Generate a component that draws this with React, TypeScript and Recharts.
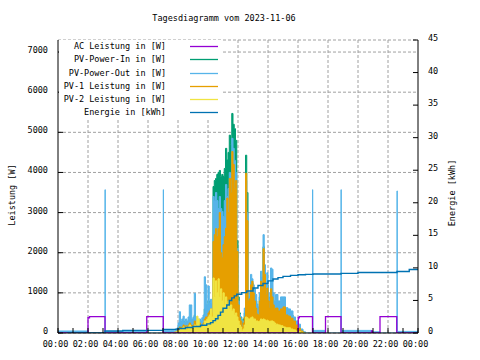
import { ComposedChart, Area, Line, XAxis, YAxis, CartesianGrid, Legend } from "recharts"

const FONT = '"DejaVu Sans Mono", "Liberation Mono", monospace'
const FS = 8.5

const seriesNames = [
  "AC Leistung in [W]",
  "PV-Power-In in [W]",
  "PV-Power-Out in [W]",
  "PV-1 Leistung in [W]",
  "PV-2 Leistung in [W]",
  "Energie in [kWh]",
]
const seriesColors = ["#9400d3", "#009e73", "#56b4e9", "#e69f00", "#f0e442", "#0072b2"]

const hourTicks = [0, 1, 2, 3, 4, 5, 6, 7, 8, 9, 10, 11, 12, 13, 14, 15, 16, 17, 18, 19, 20, 21, 22, 23, 24]
const gridHours = [2, 4, 6, 8, 10, 12, 14, 16, 18, 20, 22]
const wattTicks = [0, 1000, 2000, 3000, 4000, 5000, 6000, 7000]
const kwhTicks = [0, 5, 10, 15, 20, 25, 30, 35, 40, 45]

// AC Leistung (W)
const acTimes = ["00:00", "02:00", "02:06", "03:08", "05:55", "07:01", "16:01", "16:05", "16:58", "17:50", "18:52", "20:54", "20:57", "21:28", "22:35", "24:00"]
const acValues = [0, 380, 410, 0, 410, 0, 380, 410, 0, 410, 0, 50, 0, 410, 0, 0]

// daytime samples shared by the PV series
const dayTimes = [
  "07:30", "07:45", "07:55", "08:00", "08:05", "08:10", "08:15", "08:20", "08:25", "08:30",
  "08:35", "08:40", "08:45", "08:50", "08:55", "09:00", "09:05", "09:10", "09:15", "09:20",
  "09:25", "09:30", "09:35", "09:40", "09:45", "09:50", "09:55", "10:00", "10:05", "10:10",
  "10:15", "10:20", "10:25", "10:30", "10:35", "10:40", "10:45", "10:50", "10:55", "11:00",
  "11:05", "11:10", "11:15", "11:20", "11:25", "11:30", "11:35", "11:40", "11:45", "11:50",
  "11:55", "12:00", "12:05", "12:10", "12:15", "12:20", "12:25", "12:30", "12:35", "12:40",
  "12:45", "12:50", "12:55", "13:00", "13:05", "13:10", "13:15", "13:20", "13:25", "13:30",
  "13:35", "13:40", "13:45", "13:50", "13:55", "14:00", "14:05", "14:10", "14:15", "14:20",
  "14:25", "14:30", "14:40", "14:50", "15:00", "15:10", "15:20", "15:30", "15:40", "15:50",
  "16:00", "16:10", "16:20", "16:30",
]
const pvInValues = [
  0, 30, 80, 150, 250, 200, 250, 300, 200, 250,
  200, 300, 350, 300, 250, 300, 450, 300, 350, 250,
  300, 250, 300, 350, 600, 700, 500, 800, 600, 700,
  650, 3650, 3800, 3850, 3950, 4000, 4050, 3900, 3950, 3900,
  4100, 4600, 4310, 4500, 4930, 4700, 5470, 5200, 5090, 4800,
  2300, 900, 500, 400, 250, 350, 500, 4430, 3500, 850,
  900, 1300, 1250, 1050, 900, 800, 600, 550, 900, 1300,
  1200, 2150, 1500, 1100, 1200, 900, 700, 1300, 1000, 800,
  700, 750, 650, 750, 800, 550, 500, 450, 350, 250,
  150, 60, 0, 0,
]
const pvOutValues = [
  60, 60, 120, 250, 530, 300, 350, 420, 280, 350,
  300, 400, 700, 700, 350, 400, 990, 400, 350, 300,
  350, 300, 380, 450, 1400, 1200, 700, 1170, 750, 840,
  740, 3400, 3300, 3500, 3300, 3100, 3400, 3100, 3030, 2900,
  3300, 3700, 3400, 3600, 4000, 3800, 4850, 4600, 4300, 4000,
  2100, 800, 470, 380, 200, 300, 620, 3800, 3000, 900,
  1000, 1460, 1350, 1200, 1100, 960, 720, 650, 1000, 1540,
  1400, 2450, 1700, 1200, 1500, 1000, 850, 1620, 1590, 1000,
  800, 960, 800, 900, 900, 630, 600, 550, 400, 300,
  220, 100, 30, 0,
]
const pv1Values = [
  0, 20, 50, 100, 150, 120, 150, 200, 150, 180,
  150, 200, 250, 200, 180, 200, 300, 200, 250, 200,
  250, 180, 200, 250, 350, 400, 400, 500, 550, 600,
  500, 2280, 2450, 2600, 2400, 2600, 3000, 2000, 1870, 2200,
  2400, 2610, 3360, 3000, 3850, 3500, 4520, 4200, 3600, 3800,
  2030, 700, 380, 300, 150, 250, 400, 3980, 2800, 800,
  850, 1200, 1290, 1000, 800, 620, 470, 450, 800, 1290,
  1100, 2100, 1460, 960, 1120, 800, 620, 1100, 900, 700,
  600, 620, 550, 600, 650, 450, 420, 370, 300, 200,
  120, 50, 0, 0,
]
const pv2Values = [
  0, 20, 40, 60, 100, 80, 120, 150, 100, 150,
  80, 150, 200, 150, 100, 150, 200, 150, 420, 350,
  200, 150, 150, 200, 300, 300, 350, 400, 450, 600,
  400, 1370, 900, 1300, 1000, 1350, 900, 1100, 800, 1000,
  700, 900, 650, 800, 600, 700, 550, 600, 450, 500,
  400, 300, 200, 150, 50, 100, 200, 400, 380, 350,
  350, 380, 400, 350, 350, 300, 300, 280, 300, 350,
  330, 350, 330, 300, 320, 300, 280, 300, 300, 280,
  250, 220, 200, 180, 150, 130, 130, 100, 80, 50,
  40, 20, 0, 0,
]

// PV-Power-Out outside the daytime samples (short spikes at night)
const outEarlyTimes = ["00:00", "02:00", "03:08", "03:09", "05:55", "07:01", "07:02"]
const outEarlyValues = [50, 0, 3570, 35, 0, 3570, 65]
const outLateTimes = ["16:58", "16:59", "17:00", "17:50", "18:52", "18:53", "20:54", "21:28", "22:36", "22:37", "24:00"]
const outLateValues = [3570, 1830, 65, 0, 3570, 65, 30, 0, 3540, 40, 40]

// Energie (kWh)
const energyTimes = [
  "00:37", "03:08", "04:19", "07:01", "07:50", "08:05", "08:30", "09:00", "09:30", "09:55",
  "10:10", "10:20", "10:30", "10:40", "10:50", "11:00", "11:15", "11:25", "11:35", "11:45",
  "11:55", "12:15", "12:35", "13:00", "13:20", "13:40", "14:00", "14:20", "14:40", "15:00",
  "15:30", "16:00", "16:30", "17:00", "18:52", "20:00", "22:36", "23:25", "24:00",
]
const energyValues = [
  0, 0.3, 0.4, 0.55, 0.6, 0.7, 0.85, 1.0, 1.2, 1.4,
  1.6, 1.9, 2.2, 2.7, 3.2, 3.8, 4.3, 5.0, 5.4, 5.7,
  5.95, 6.2, 6.45, 6.9, 7.3, 7.6, 8.0, 8.3, 8.5, 8.7,
  8.85, 8.95, 9.0, 9.05, 9.15, 9.3, 9.45, 9.75, 9.75,
]

const toHours = (s: string) => {
  const [h, m] = s.split(":").map(Number)
  return h + m / 60
}
const makeSeries = (times: string[], values: number[]) =>
  times.map((t, i) => ({ t: toHours(t), v: values[i] }))

const acData = makeSeries(acTimes, acValues)
const pvInData = makeSeries(dayTimes, pvInValues)
const pvOutData = [
  ...makeSeries(outEarlyTimes, outEarlyValues),
  ...makeSeries(dayTimes, pvOutValues),
  ...makeSeries(outLateTimes, outLateValues),
]
const pv1Data = makeSeries(dayTimes, pv1Values)
const pv2Data = makeSeries(dayTimes, pv2Values)
const energyData = makeSeries(energyTimes, energyValues)

const fmtHour = (h: number) => `${String(h % 24).padStart(2, "0")}:00`

const BottomTick = ({ x, y, payload }: any) =>
  payload.value % 2 === 0 ? (
    <text x={x - 2.5} y={y} textAnchor="middle" fontFamily={FONT} fontSize={FS} fill="#000">
      {fmtHour(payload.value)}
    </text>
  ) : null

const LeftTick = ({ x, y, payload }: any) => (
  <text x={x} y={y + 1} textAnchor="end" fontFamily={FONT} fontSize={FS} fill="#000">
    {payload.value}
  </text>
)

const RightTick = ({ x, y, payload }: any) => (
  <text x={x} y={y + 1} textAnchor="start" fontFamily={FONT} fontSize={FS} fill="#000">
    {payload.value}
  </text>
)

const renderLegend = () => (
  <div style={{ background: "#fff", width: 163, height: 79, position: "relative", fontFamily: FONT, fontSize: FS }}>
    {seriesNames.map((name, i) => (
      <div key={name} style={{ position: "absolute", top: 0.2 + i * 13.2, left: 0, width: 163, height: 13 }}>
        <span style={{ position: "absolute", right: 56, top: 0, lineHeight: "13px", whiteSpace: "pre" }}>{name}</span>
        <svg width={30} height={13} style={{ position: "absolute", left: 130, top: 0 }}>
          <line x1={1} x2={29} y1={6.5} y2={6.5} stroke={seriesColors[i]} strokeWidth={1.3} />
        </svg>
      </div>
    ))}
  </div>
)

// vertical grid every 2 hours, taken from the x scale
const verticalGrid = (args: any) => {
  const { xAxis, offset } = args
  if (xAxis && typeof xAxis.scale === "function") return gridHours.map((h) => xAxis.scale(h))
  return gridHours.map((h) => offset.left + (h / 24) * offset.width)
}

const labelStyle = { position: "absolute" as const, fontFamily: FONT, fontSize: FS, color: "#000", whiteSpace: "pre" as const }

export default function App() {
  return (
    <div style={{ position: "absolute", left: 0, top: 0, width: 480, height: 360, background: "#fff" }}>
      <div style={{ ...labelStyle, left: 224, top: 18, transform: "translate(-50%, -50%)" }}>Tagesdiagramm vom 2023-11-06</div>
      <div style={{ ...labelStyle, left: 12, top: 195, transform: "translate(-50%, -50%) rotate(-90deg)" }}>Leistung [W]</div>
      <div style={{ ...labelStyle, left: 452, top: 193, transform: "translate(-50%, -50%) rotate(-90deg)" }}>Energie [kWh]</div>
      <ComposedChart width={480} height={360} margin={{ top: 40, right: 22, bottom: 7, left: 18 }} style={{ position: "absolute", left: 0, top: 0 }}>
        <CartesianGrid
          xAxisId="b"
          yAxisId="w"
          stroke="#a0a0a0"
          strokeDasharray="3 2"
          verticalCoordinatesGenerator={verticalGrid}
        />
        <XAxis
          xAxisId="b"
          dataKey="t"
          type="number"
          domain={[0, 24]}
          ticks={hourTicks}
          interval={0}
          allowDataOverflow
          height={20}
          tickSize={-5}
          tickMargin={19}
          tick={<BottomTick />}
          axisLine={{ stroke: "#000" }}
          tickLine={{ stroke: "#000" }}
        />
        <XAxis
          xAxisId="top"
          orientation="top"
          dataKey="t"
          type="number"
          domain={[0, 24]}
          ticks={hourTicks}
          interval={0}
          height={0}
          tickSize={-5}
          tick={false}
          axisLine={{ stroke: "#000" }}
          tickLine={{ stroke: "#000" }}
        />
        <YAxis
          yAxisId="w"
          domain={[0, 7300]}
          ticks={wattTicks}
          interval={0}
          allowDataOverflow
          width={40}
          tickSize={-5}
          tickMargin={15}
          tick={<LeftTick />}
          axisLine={{ stroke: "#000" }}
          tickLine={{ stroke: "#000" }}
        />
        <YAxis
          yAxisId="k"
          orientation="right"
          domain={[0, 45]}
          ticks={kwhTicks}
          interval={0}
          allowDataOverflow
          width={40}
          tickSize={-5}
          tickMargin={15}
          tick={<RightTick />}
          axisLine={{ stroke: "#000" }}
          tickLine={{ stroke: "#000" }}
        />
        <Line data={acData} xAxisId="b" yAxisId="w" dataKey="v" type="stepAfter" stroke={seriesColors[0]} strokeWidth={1.3} dot={false} activeDot={false} isAnimationActive={false} />
        <Area data={pvInData} xAxisId="b" yAxisId="w" dataKey="v" type="stepAfter" stroke={seriesColors[1]} fill={seriesColors[1]} fillOpacity={1} strokeWidth={1} dot={false} activeDot={false} isAnimationActive={false} />
        <Area data={pvOutData} xAxisId="b" yAxisId="w" dataKey="v" type="stepAfter" stroke={seriesColors[2]} fill={seriesColors[2]} fillOpacity={1} strokeWidth={1} dot={false} activeDot={false} isAnimationActive={false} />
        <Area data={pv1Data} xAxisId="b" yAxisId="w" dataKey="v" type="stepAfter" stroke={seriesColors[3]} fill={seriesColors[3]} fillOpacity={1} strokeWidth={1} dot={false} activeDot={false} isAnimationActive={false} />
        <Area data={pv2Data} xAxisId="b" yAxisId="w" dataKey="v" type="stepAfter" stroke={seriesColors[4]} fill={seriesColors[4]} fillOpacity={1} strokeWidth={1} dot={false} activeDot={false} isAnimationActive={false} />
        <Line data={energyData} xAxisId="b" yAxisId="k" dataKey="v" type="stepAfter" stroke={seriesColors[5]} strokeWidth={1.4} dot={false} activeDot={false} isAnimationActive={false} />
        <Legend
          layout="horizontal"
          verticalAlign="middle"
          align="center"
          content={renderLegend}
          wrapperStyle={{ left: 59, top: 40, width: 163, height: 79 }}
        />
      </ComposedChart>
    </div>
  )
}
